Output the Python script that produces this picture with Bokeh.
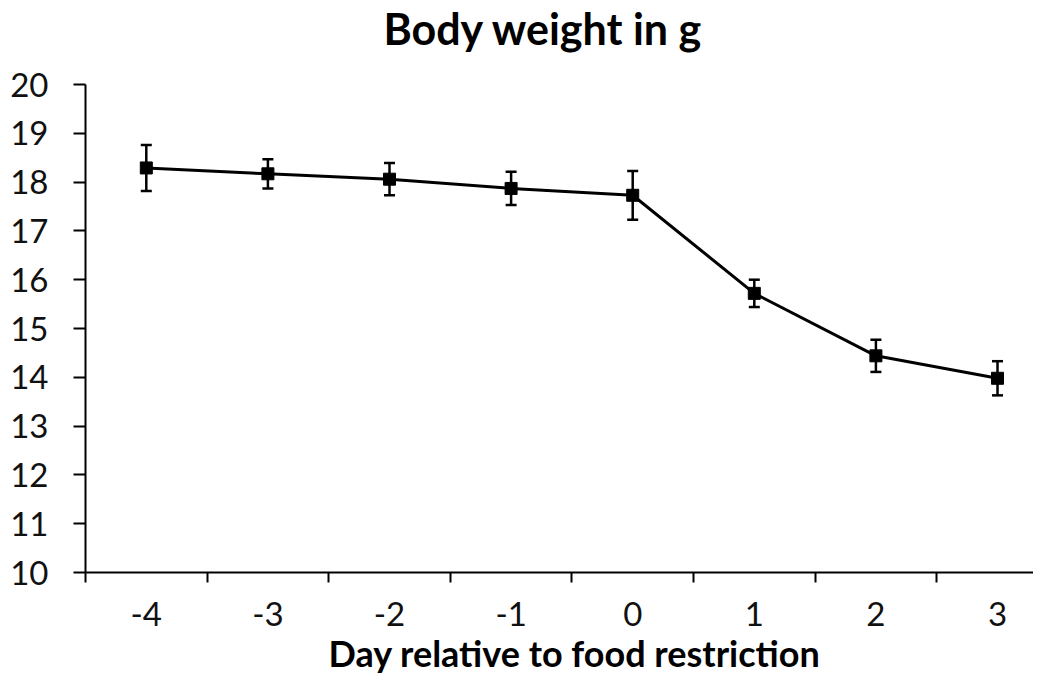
from bokeh.plotting import figure
from bokeh.models import Range1d, FixedTicker, ColumnDataSource, Whisker, TeeHead, Title
from bokeh.embed import file_html
from bokeh.resources import INLINE

days = [-4, -3, -2, -1, 0, 1, 2, 3]
day_labels = ["-4", "-3", "-2", "-1", "0", "1", "2", "3"]
mean_weight = [18.29, 18.17, 18.06, 17.87, 17.73, 15.72, 14.44, 13.98]
err_weight = [0.47, 0.30, 0.33, 0.34, 0.50, 0.28, 0.33, 0.35]
y_ticks = [10, 11, 12, 13, 14, 15, 16, 17, 18, 19, 20]
x_title = "Day relative to food restriction"
chart_title = "Body weight in g"

src = ColumnDataSource(dict(
    x=days, y=mean_weight,
    lo=[m - e for m, e in zip(mean_weight, err_weight)],
    hi=[m + e for m, e in zip(mean_weight, err_weight)],
))

FONT = "Lato"

p = figure(width=1033, height=675, output_backend="svg", toolbar_location=None,
           x_range=Range1d(-4.5, 3.296), y_range=Range1d(10, 20),
           min_border_left=85, min_border_right=0, min_border_top=84, min_border_bottom=103)
p.outline_line_color = None
p.xgrid.visible = False
p.ygrid.visible = False
p.background_fill_color = "white"
p.border_fill_color = "white"
p.title.text = ""

# spacer between frame and title, then the title itself
p.add_layout(Title(text=" ", text_font_size="2px", standoff=27), "above")
p.add_layout(Title(text=chart_title, align="left", offset=298, text_font=FONT,
                   text_font_size="43px", text_font_style="bold", text_color="black",
                   standoff=0), "above")

# y axis
ya = p.yaxis[0]
ya.ticker = FixedTicker(ticks=y_ticks)
ya.axis_line_width = 2
ya.axis_line_color = "black"
ya.major_tick_line_width = 2
ya.major_tick_out = 12
ya.major_tick_in = 0
ya.minor_tick_line_color = None
ya.major_label_standoff = 25
ya.major_label_text_font = FONT
ya.major_label_text_font_size = "33px"
ya.major_label_text_color = "#111111"

# x axis: labels at categories, tick marks at boundaries
xa = p.xaxis[0]
xa.ticker = FixedTicker(ticks=days, minor_ticks=[d - 0.5 for d in days])
xa.major_label_overrides = {d: lab for d, lab in zip(days, day_labels)}
xa.axis_line_width = 2
xa.axis_line_color = "black"
xa.major_tick_line_color = None
xa.major_tick_out = 0
xa.major_tick_in = 0
xa.minor_tick_line_width = 2
xa.minor_tick_line_color = "black"
xa.minor_tick_out = 10
xa.minor_tick_in = 0
xa.major_label_standoff = 19
xa.major_label_text_font = FONT
xa.major_label_text_font_size = "33px"
xa.major_label_text_color = "#111111"

# x axis title below the axis
p.add_layout(Title(text=x_title, align="left", offset=243, vertical_align="bottom",
                   text_font=FONT, text_font_size="36px", text_font_style="bold",
                   text_color="black", standoff=0), "below")

p.line("x", "y", source=src, line_width=3, line_color="black")
w = Whisker(source=src, base="x", lower="lo", upper="hi", line_width=2.5, line_color="black",
            upper_head=TeeHead(size=11, line_width=2.5, line_color="black"),
            lower_head=TeeHead(size=11, line_width=2.5, line_color="black"))
p.add_layout(w)
p.scatter("x", "y", source=src, marker="square", size=12, fill_color="black", line_color="black")

open("out.html", "w").write(file_html(p, INLINE))
